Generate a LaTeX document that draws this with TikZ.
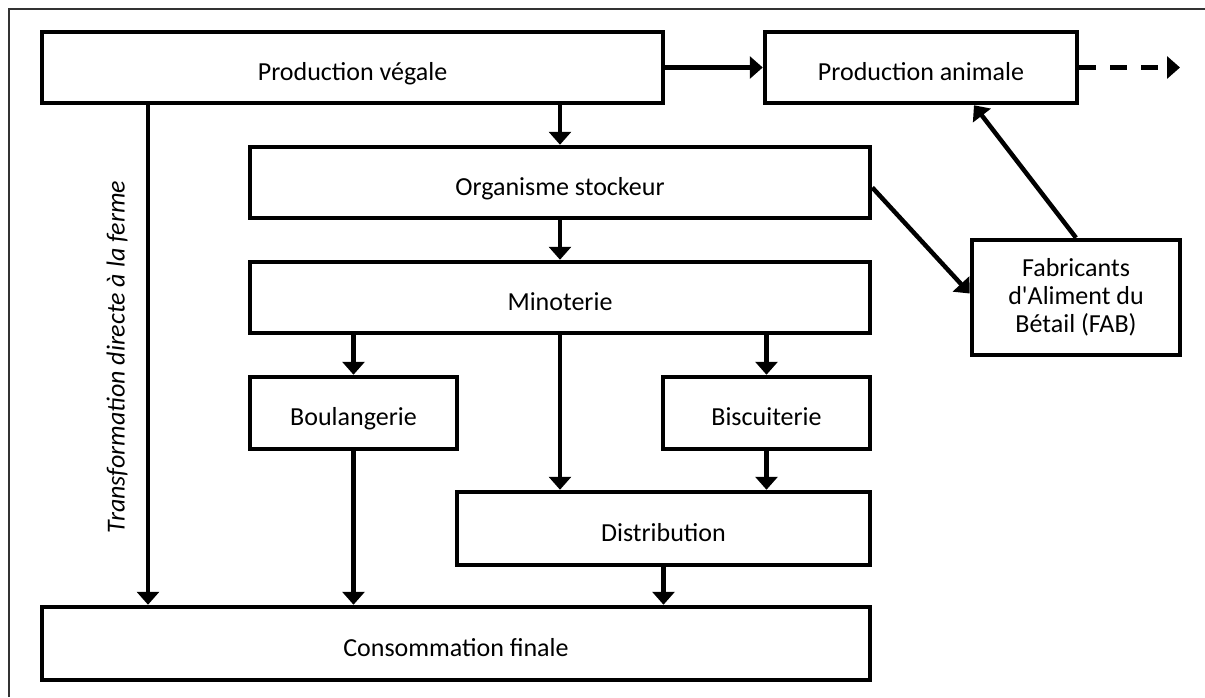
\documentclass[tikz,border=0pt]{standalone}
\usepackage{fontspec}
\newfontfamily\carl{Carlito}
\usetikzlibrary{arrows.meta,calc}
\begin{document}
\begin{tikzpicture}[x=1pt,y=-1pt,
  box/.style={draw, line width=4.5pt, rectangle, inner sep=0pt, align=center,
    font=\carl\fontsize{26}{28}\selectfont},
  one/.style={text height=25pt, text depth=0pt},
  arr/.style={line width=4.5pt, -{Triangle[length=13pt,width=22pt]}},
  dashline/.style={dash pattern=on 17pt off 14pt}]
\useasboundingbox (0,0) rectangle (1205,697);
% outer frame
\draw[line width=1.3pt, black!80] (9,697) -- (9,9) -- (1205,9);
% boxes
\node[box, one, minimum width=621pt, minimum height=71pt] (PV) at (352.5,67.5) {Production végale};
\node[box, one, minimum width=312pt, minimum height=71pt] (PA) at (921,67.5) {Production animale};
\node[box, one, minimum width=620pt, minimum height=71pt] (OS) at (560,182.5) {Organisme stockeur};
\node[box, one, minimum width=620pt, minimum height=71pt] (MI) at (560,297.5) {Minoterie};
\node[box, one, minimum width=207pt, minimum height=72pt] (BO) at (353.5,413) {Boulangerie};
\node[box, one, minimum width=207pt, minimum height=72pt] (BI) at (766.5,413) {Biscuiterie};
\node[box, one, minimum width=413pt, minimum height=73pt] (DI) at (663.5,528.5) {Distribution};
\node[box, one, minimum width=828pt, minimum height=73pt] (CF) at (456,643.5) {Consommation finale};
\node[box, minimum width=208pt, minimum height=115pt] (FAB) at (1076,297.5) {Fabricants\\d'Aliment du\\Bétail (FAB)};
% label
\node[rotate=90, font=\carl\fontsize{26}{28}\selectfont\itshape] (TR) at (117,357) {Transformation directe à la ferme};
% helper coordinates
\coordinate (xl) at (148,0);
\coordinate (xm) at (560,0);
\coordinate (xp) at (974,0);
\coordinate (dashend) at (1180,67.5);
% connectors
\draw[arr] (PV.east) -- (PA.west);
\draw[arr, dashline] (PA.east) -- (dashend);
\draw[arr] (PV.south -| xl) -- (CF.north -| xl);
\draw[arr] (PV.south -| xm) -- (OS.north);
\draw[arr] (OS.south) -- (MI.north);
\draw[arr] (MI.south -| BO.north) -- (BO.north);
\draw[arr] (MI.south -| BI.north) -- (BI.north);
\draw[arr] (MI.south -| xm) -- (DI.north -| xm);
\draw[arr] (BI.south) -- (DI.north -| BI.south);
\draw[arr] (BO.south) -- (CF.north -| BO.south);
\draw[arr] (DI.south) -- (CF.north -| DI.south);
\draw[arr] ($(OS.east)+(0,5)$) -- ($(FAB.west)+(0,-4)$);
\draw[arr] (FAB.north) -- (PA.south -| xp);
\end{tikzpicture}
\end{document}
